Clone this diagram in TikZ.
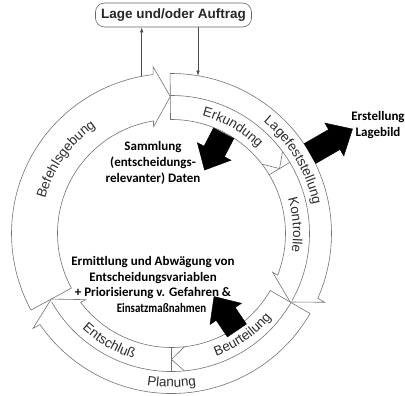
\documentclass[tikz,border=0pt]{standalone}
\usepackage{graphicx}
\usepackage{fontspec}
\setmainfont{Liberation Sans}
\newfontfamily\calfont{Carlito}
\usetikzlibrary{arrows.meta,decorations.text,calc}

\newcommand\ringfont{\fontsize{13.5}{16}\selectfont}
% radial block arrow: angle, tail radius, head-base radius, tip radius
\newcommand\blockarr[4]{%
  \begin{scope}[rotate=#1]
    \fill[blockarrow] (#2,-11.5) -- (#3,-11.5) -- (#3,-19) -- (#4,0)
      -- (#3,19) -- (#3,11.5) -- (#2,11.5) -- cycle;
  \end{scope}}

\begin{document}
\begin{tikzpicture}[x=1pt,y=1pt,
  band/.style={draw=black!55, line width=0.6pt, fill=white, line join=miter},
  divider/.style={draw=black!55, line width=0.6pt},
  blockarrow/.style={fill=black, draw=black, line join=miter},
  feed/.style={draw=black!70, line width=0.6pt, -{Latex[length=5pt,width=3.5pt]}},
  ringtext/.style={decorate, decoration={text along path, text align=center,
      text color=black!82, text={|\ringfont|#1}}},
  infotext/.style={font=\calfont\bfseries\fontsize{13}{16}\selectfont,
      align=center, inner sep=0pt, text=black}
]
\useasboundingbox (0,0) rectangle (405,-396);

\node[draw=black!60, line width=0.6pt, rounded corners=9pt, minimum width=156pt,
      minimum height=24pt, inner sep=0pt, text=black!85,
      font=\bfseries\fontsize{13.5}{16}\selectfont] (lage) at (173.5,-15)
      {Lage und/oder Auftrag};

\begin{scope}[shift={(171.5,-233.5)}]
  % Befehlsgebung: 208.6 -> tip at 90.5
  \path[band] (208.6:114) -- (208.6:160)
    arc[start angle=208.6, end angle=96.6, radius=160]
    -- (96.31:167.86) -- (90.5:137) -- (99.53:108.34) -- (99.08:114)
    arc[start angle=99.08, end angle=208.6, radius=114] -- cycle;

  % Lagefeststellung: 90.5 -> tip at -30
  \path[band] (90.5:114) -- (90.5:160)
    arc[start angle=90.5, end angle=-23.9, radius=160]
    -- (-24.19:167.86) -- (-30:137) -- (-20.97:108.34) -- (-21.42:114)
    arc[start angle=-21.42, end angle=90.5, radius=114] -- cycle;
  \draw[divider] (90.5:138) arc[start angle=90.5, end angle=-29, radius=138];
  % Erkundung -> Kontrolle
  \draw[divider] (31:114) -- (31:138);
  \draw[divider] (37.5:114) -- (31:126) -- (36.4:138);

  % Planung: -30 -> tip at -151.4
  \path[band] (-30:114) -- (-30:160)
    arc[start angle=-30, end angle=-145.3, radius=160]
    -- (-145.59:167.86) -- (-151.4:137) -- (-142.37:108.34) -- (-142.82:114)
    arc[start angle=-142.82, end angle=-30, radius=114] -- cycle;
  \draw[divider] (-30:138) arc[start angle=-30, end angle=-150.4, radius=138];
  % Beurteilung -> Entschluss
  \draw[divider] (-90:114) -- (-90:138);
  \draw[divider] (-83.5:114) -- (-90:126) -- (-84.6:138);

  % ring labels
  \path[ringtext=Erkundung] (100:121.5) arc[start angle=100, end angle=20, radius=121.5];
  \path[ringtext=Lagefeststellung] (80:144.5) arc[start angle=80, end angle=-18, radius=144.5];
  \path[ringtext=Kontrolle] (49:121.5) arc[start angle=49, end angle=-41, radius=121.5];
  \path[ringtext=Befehlsgebung] (195:131) arc[start angle=195, end angle=95, radius=131];
  \path[ringtext=Beurteilung] (-100:130.5) arc[start angle=-100, end angle=-10, radius=130.5];
  \path[ringtext=Planung] (-135:153.5) arc[start angle=-135, end angle=-45, radius=153.5];
  \path[ringtext=Entschluß] (195:130.5) arc[start angle=195, end angle=285, radius=130.5];

  % black arrows
  \blockarr{62.5}{113}{92.5}{71.5}
  \blockarr{30}{160}{188}{209}
  \blockarr{-56}{117}{97}{76}

  % feed points on the outer edge
  \coordinate (befOut) at (-29.8,157.2);
  \coordinate (lagOut) at (26.5,157.8);
\end{scope}

\draw[feed] (befOut) -- (befOut |- lage.south);
\draw[feed] (lagOut |- lage.south) -- (lagOut);

\node[infotext] (samm) at (153,-163) {Sammlung\\(entscheidungs-\\relevanter) Daten};
\node[infotext] (bild) at (378,-125) {Erstellung\\Lagebild};
\node[infotext, font=\calfont\bfseries\fontsize{13}{15.7}\selectfont] (ermitt) at (153,-284.5)
  {Ermittlung und Abwägung von\\Entscheidungsvariablen\\+ Priorisierung v. Gefahren \&\\\hspace*{17pt}\scalebox{0.84}[1]{Einsatzmaßnahmen}};
\end{tikzpicture}
\end{document}
